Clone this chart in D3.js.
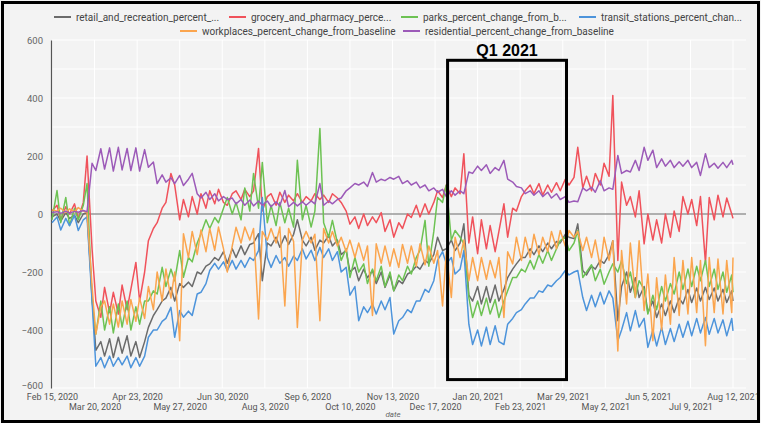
<!DOCTYPE html>
<html><head><meta charset="utf-8">
<script src="https://cdn.jsdelivr.net/npm/d3@7"></script>
<style>
body{margin:0;background:#f3f3f3}
svg{display:block}
text{font-family:Roboto,"Noto Sans",sans-serif}
</style>
</head><body>
<svg id="chart" width="761" height="423"></svg>
<script>
// ---------- DATA ----------
const startDate = "2020-02-15";
const seriesNames = [
  "retail_and_recreation_percent_...",
  "grocery_and_pharmacy_perce...",
  "parks_percent_change_from_b...",
  "transit_stations_percent_chan...",
  "workplaces_percent_change_from_baseline",
  "residential_percent_change_from_baseline"
];
const seriesColors = ["#6b6b6b","#f0525b","#6dc253","#4d94db","#fba54e","#9c5ab8"];

// day offsets from startDate (Saturdays and Wednesdays)
const sampleDays = [0,4,7,11,14,18,21,25,28,32,35,39,42,46,49,53,56,60,63,67,70,74,77,81,84,88,91,95,98,102,
105,109,112,116,119,123,126,130,133,137,140,144,147,151,154,158,161,165,168,172,175,179,182,186,189,193,196,200,203,207,
210,214,217,221,224,228,231,235,238,242,245,249,252,256,259,263,266,270,273,277,280,284,287,291,294,298,301,305,308,312,
315,319,322,326,329,333,336,340,343,347,350,354,357,361,364,368,371,375,378,382,385,389,392,396,399,403,406,410,413,417,
420,424,427,431,434,438,441,445,448,452,455,459,462,466,469,473,476,480,483,487,490,494,497,501,504,508,511,515,518,522,
525,529,532,536,539,543,544];

const retail = [
-10,0, -25,5, -15,-5, -30,0, 5,-280,
-470,-440, -490,-430, -495,-425, -480,-420, -490,-440,
-495,-440, -391,-350, -330,-300, -290,-253, -300,-240,
-253,-235, -250,-200, -207,-180, -172,-150, -160,-130,
-170,-120, -150,-110, -140,-105, -100,-68, -230,-100,
-110,-80, -115,-75, -105,-70, -20,-90, -110,-80,
-125,-90, -100,-75, -110,-90, -140,-125, -200,-184,
-230,-190, -220,-195, -240,-200, -253,-210, -265,-230,
-240,-207, -200,-180, -190,-160, -170,-140, -80,-126,
-120,-90, -126,-100, -34,-280, -300,-250, -310,-250,
-305,-245, -300,-260, -219,-190, -172,-150, -150,-120,
-140,-110, -130,-100, -120,-95, -100,-70, -80,-85,
-34,-195, -210,-180, -190,-160, -170,-140, -92,-368,
-250,-200, -270,-220, -288,-250, -340,-300, -357,-310,
-350,-300, -340,-290, -310,-260, -305,-255, -300,-253,
-295,-255, -300,-260, -305,-265,
-300];

const grocery = [
10,30, -20,25, 0,35, -15,40, 200,-120,
-300,-356, -253,-340, -270,-345, -245,-330, -260,-167,
-300,-200, -92,-50, -30,20, 40,140, 100,-20,
50,-10, 60,0, 70,20, 80,35, 85,40,
30,70, 80,50, 85,60, 80,226, 10,60,
70,30, 75,40, 65,45, 70,40, 60,45,
70,50, 65,40, 70,55, 40,10, -35,-10,
-50,0, -40,-10, -30,5, -60,-20, -80,-30,
-50,0, -12,30, -10,35, 0,40, 80,57,
100,60, 90,70, 208,-100, -10,-137, -20,-120,
-40,-130, -60,35, -80,20, 10,60, 80,100,
70,105, 65,100, 75,108, 80,120, 100,126,
230,90, 130,80, 140,100, 175,130, 409,-160,
110,30, 60,-10, 80,-103, 0,-90, -20,-100,
0,-80, 10,-60, 60,0, 50,-40, 60,-168,
57,-20, 65,-10, 55,0,
-15];

const parks = [
-20,81, -30,57, -40,20, -20,30, 105,-300,
-414,-300, -400,-320, -410,-310, -390,-300, -400,-320,
-380,-300, -300,-265, -276,-184, -250,-190, -230,-126,
-218,-150, -165,-100, -68,-20, -50,-12, -30,20,
57,0, 40,-20, 90,10, 140,20, 178,-30,
30,-40, 40,-30, 20,-45, 185,-20, 30,-45,
10,295, -30,-80, -22,-100, -160,-120, -219,-150,
-200,-172, -240,-190, -230,-180, -250,-200, -265,-210,
-230,-180, -207,-150, -125,-22, -180,-60, 57,40,
100,-90, -57,-80, -103,-288, -357,-300, -350,-290,
-345,-295, -357,-300, -265,-219, -219,-190, -200,-160,
-190,-140, -170,-126, -160,-120, -92,-80, -126,-100,
-57,-219, -200,-175, -230,-190, -242,-200, -172,-200,
-160,-240, -200,-288, -230,-260, -345,-280, -330,-250,
-300,-240, -276,-200, -260,-190, -250,-180, -230,-160,
-250,-190, -260,-200, -270,-210,
-270];

const transit = [
-30,-10, -55,-15, -40,-5, -57,-20, -10,-300,
-525,-495, -530,-490, -525,-495, -520,-490, -530,-495,
-525,-490, -425,-400, -400,-370, -360,-322, -425,-333,
-356,-335, -350,-276, -270,-240, -195,-170, -190,-165,
-195,-160, -190,-160, -184,-150, -160,-126, 57,-150,
-184,-143, -170,-150, -180,-145, -160,-120, -155,-125,
-160,-115, -150,-120, -160,-130, -200,-184, -280,-250,
-368,-320, -340,-310, -345,-300, -330,-288, -414,-368,
-357,-330, -340,-300, -300,-260, -270,-230, -160,-130,
-172,-150, -207,-190, -126,-380, -450,-400, -455,-390,
-450,-385, -440,-450, -380,-360, -340,-330, -310,-290,
-290,-265, -270,-245, -250,-230, -219,-195, -210,-200,
-195,-288, -333,-280, -320,-270, -310,-265, -290,-437,
-400,-340, -403,-333, -390,-360, -460,-400, -455,-391,
-450,-395, -440,-380, -425,-370, -420,-360, -410,-357,
-415,-360, -410,-365, -420,-360,
-403];

const workplaces = [
15,10, 20,5, 18,8, 22,10, 5,-250,
-414,-320, -300,-380, -310,-390, -300,-380, -295,-370,
-290,-360, -250,-330, -200,-300, -190,-290, -200,-437,
-68,-150, -60,-140, -55,-130, -50,-125, -45,-120,
-200,-110, -46,-100, -45,-90, -50,-362, -60,-90,
-50,-100, -45,-317, -50,-95, -391,-90, -60,-100,
-70,-368, -50,-100, -60,-110, -80,-130, -90,-150,
-100,-160, -110,-350, -103,-170, -110,-180, -120,-184,
-105,-170, -110,-180, -103,-175, -110,-170, -126,-317,
-130,-288, -80,-150, -90,-230, -150,-230, -150,-225,
-160,-220, -150,-357, -130,-172, -80,-160, -80,-150,
-70,-140, -80,-130, -60,-120, -57,-110, -57,-80,
-60,-126, -80,-150, -90,-184, -80,-160, -92,-472,
-126,-310, -100,-288, -92,-333, -207,-437, -220,-400,
-210,-380, -150,-350, -160,-345, -150,-340, -160,-454,
-150,-340, -155,-345, -160,-340,
-150];

const residential = [
5,8, 2,10, 3,9, 6,12, 8,175,
150,225, 155,228, 148,230, 152,226, 150,228,
148,222, 161,179, 105,135, 110,125, 105,133,
98,120, 140,70, 55,75, 50,70, 45,60,
50,55, 35,50, 30,48, 28,45, 30,45,
25,42, 28,81, 25,40, 28,42, 30,45,
35,105, 30,45, 35,50, 55,80, 90,105,
100,110, 95,143, 110,120, 115,126, 120,130,
105,115, 100,110, 90,100, 80,90, 75,85,
60,80, 65,80, 70,145, 140,165, 150,170,
140,160, 150,185, 120,110, 95,90, 70,80,
65,80, 60,75, 55,70, 50,60, 40,45,
42,90, 80,92, 75,115, 80,90, 85,202,
140,150, 145,185, 150,230, 185,220, 160,190,
165,185, 160,180, 165,185, 160,178, 133,208,
160,175, 158,178, 160,185,
170];

const yTickValues = [-600,-400,-200,0,200,400,600];
const xTickLabels = ["Feb 15, 2020","Mar 20, 2020","Apr 23, 2020","May 27, 2020","Jun 30, 2020","Aug 3, 2020",
  "Sep 6, 2020","Oct 10, 2020","Nov 13, 2020","Dec 17, 2020","Jan 20, 2021","Feb 23, 2021","Mar 29, 2021",
  "May 2, 2021","Jun 5, 2021","Jul 9, 2021","Aug 12, 2021"];
const xAxisTitle = "date";
// annotation box (day offsets and values)
const boxStartDay = 316, boxEndDay = 411, boxTop = 530, boxBottom = -571;
const boxLabel = "Q1 2021";

// ---------- CHART ----------
const svg = d3.select("#chart");
const parseIso = d3.timeParse("%Y-%m-%d");
const parseTick = d3.timeParse("%b %d, %Y");
const t0 = parseIso(startDate);
const dayToDate = d => d3.timeDay.offset(t0, d);
const tickDates = xTickLabels.map(parseTick);

const x = d3.scaleTime().domain([tickDates[0], tickDates[tickDates.length-1]]).range([52, 733]);
const y = d3.scaleLinear().domain([-600, 600]).range([388, 40]);
const plotRight = 746;

// background
svg.append("rect").attr("x",0).attr("y",0).attr("width",761).attr("height",423).attr("fill","#f3f3f3");

// gridlines
svg.append("g").selectAll("line").data(d3.range(-600, 601, 100)).join("line")
  .attr("x1", 52).attr("x2", plotRight)
  .attr("y1", d => y(d)).attr("y2", d => y(d))
  .attr("stroke", "#ffffff").attr("stroke-width", 1);
svg.append("g").selectAll("line").data(tickDates).join("line")
  .attr("x1", d => x(d)).attr("x2", d => x(d))
  .attr("y1", y(600)).attr("y2", y(-600))
  .attr("stroke", "#ffffff").attr("stroke-width", 1);

// zero line
svg.append("line").attr("x1", 51).attr("x2", plotRight)
  .attr("y1", y(0)).attr("y2", y(0)).attr("stroke", "#666").attr("stroke-width", 1.2);

// y axis
const yAxis = svg.append("g").attr("transform", "translate(51,0)")
  .call(d3.axisLeft(y).tickValues(yTickValues).tickSize(0).tickSizeOuter(0).tickPadding(8));
yAxis.select(".domain").attr("stroke", "#555").attr("stroke-width", 1.2);
yAxis.selectAll("text").attr("fill", "#666").style("font-size", "9.5px")
  .attr("dy", d => d === -600 ? "0.1em" : "0.32em");

// x axis
const xAxis = svg.append("g").attr("transform", `translate(0,${y(-600)})`)
  .call(d3.axisBottom(x).tickValues(tickDates).tickSize(0).tickFormat((d,i) => xTickLabels[i]));
xAxis.select(".domain").remove();
xAxis.selectAll("text")
  .attr("fill", "#555").style("font-size", "9px")
  .attr("dy", 0)
  .attr("y", (d,i) => i % 2 === 0 ? 11.5 : 22);

svg.append("text").attr("x", 393).attr("y", 417).attr("text-anchor","middle")
  .attr("fill","#666").style("font-size","8px").style("font-style","italic").text(xAxisTitle);

// lines
const allSeries = [retail, grocery, parks, transit, workplaces, residential];
const line = d3.line().x((v,i) => x(dayToDate(sampleDays[i]))).y(v => y(v));
svg.append("g").selectAll("path").data(allSeries).join("path")
  .attr("d", d => line(d))
  .attr("fill","none")
  .attr("stroke", (d,i) => seriesColors[i])
  .attr("stroke-width", 1.5)
  .attr("stroke-linejoin","round");

// annotation box
const bx0 = x(dayToDate(boxStartDay)), bx1 = x(dayToDate(boxEndDay));
svg.append("rect").attr("x", bx0).attr("y", y(boxTop))
  .attr("width", bx1 - bx0).attr("height", y(boxBottom) - y(boxTop))
  .attr("fill","none").attr("stroke","#000").attr("stroke-width",3);
svg.append("text").attr("x", (bx0+bx1)/2).attr("y", y(boxTop) - 4)
  .attr("text-anchor","middle").style("font-family","'Liberation Sans',Arial,sans-serif")
  .style("font-size","16px").style("font-weight","bold").attr("fill","#000").text(boxLabel);

// legend
const legendPos = [[54,17],[229,17],[401,17],[579,17],[180,31],[403,31]];
const lg = svg.append("g").selectAll("g").data(seriesNames).join("g")
  .attr("transform", (d,i) => `translate(${legendPos[i][0]},${legendPos[i][1]})`);
lg.append("line").attr("x1",0).attr("x2",17).attr("y1",0).attr("y2",0)
  .attr("stroke",(d,i) => seriesColors[i]).attr("stroke-width",2);
lg.append("text").attr("x",22).attr("y",0).attr("dy","0.35em")
  .attr("fill","#444").style("font-size","10px").text(d => d);

// outer frame
svg.append("rect").attr("x",2.5).attr("y",2.5).attr("width",756).attr("height",419)
  .attr("fill","none").attr("stroke","#000").attr("stroke-width",3);
</script>
</body></html>
